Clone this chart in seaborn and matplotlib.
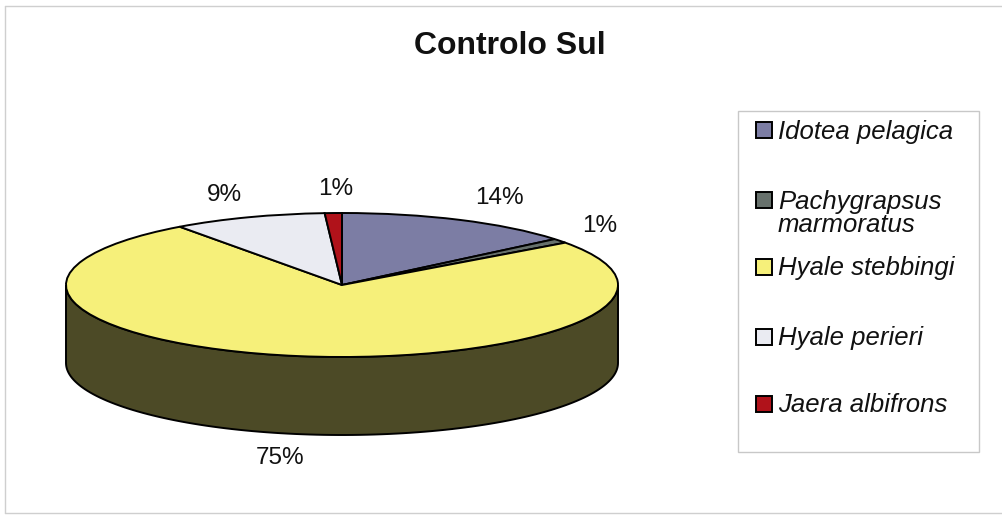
import numpy as np
import matplotlib
matplotlib.use("Agg")
import matplotlib.pyplot as plt
from matplotlib.patches import Polygon, Rectangle
from matplotlib.lines import Line2D
import seaborn as sns

# Species and their share of the sample (%)
species = ["Idotea pelagica", "Pachygrapsus\nmarmoratus", "Hyale stebbingi",
           "Hyale perieri", "Jaera albifrons"]
percent = [14, 1, 75, 9, 1]
slice_colors = ["#7c7da4", "#67716c", "#f6f07a", "#eaebf2", "#b0121a"]
title = "Controlo Sul"

sns.set_theme(style="white")
plt.rcParams["font.family"] = ["Liberation Sans", "DejaVu Sans"]

W, H = 1003, 517
fig = plt.figure(figsize=(W / 100, H / 100), dpi=100)
fig.patch.set_facecolor("white")


def fx(px):
    return px / W


def fy(py):
    return 1 - py / H


# Disc geometry in pixels: centre, horizontal / vertical radius, wall height
cx, cy, rx, ry, depth_px = 342, 285, 276, 72, 78
x0, x1 = -1.2, 1.2
y0, y1 = -2.8, 1.9
ax = fig.add_axes([fx(cx + x0 * rx), fy(cy - y0 * ry),
                   (x1 - x0) * rx / W, (y1 - y0) * ry / H])

palette = sns.color_palette(slice_colors)
wedges, _ = ax.pie(percent, colors=palette, startangle=90, counterclock=False,
                   wedgeprops=dict(edgecolor="black", linewidth=1.4))
for w in wedges:
    w.set_zorder(3)
ax.set_aspect("auto")
ax.set_xlim(x0, x1)
ax.set_ylim(y0, y1)
ax.axis("off")
depth = depth_px / ry


def shade(c, f=0.31):
    return tuple(v * f for v in c)


# Side wall of the tilted disc: the part of each slice facing the viewer
for w, col in zip(wedges, palette):
    t1, t2 = w.theta1, w.theta2
    for k in (-360, 0, 360):
        a = max(t1 + k, 180)
        b = min(t2 + k, 360)
        if b > a:
            t = np.radians(np.linspace(a, b, 120))
            xs, ys = np.cos(t), np.sin(t)
            pts = np.column_stack([np.r_[xs, xs[::-1]],
                                   np.r_[ys, ys[::-1] - depth]])
            ax.add_patch(Polygon(pts, closed=True, facecolor=shade(col),
                                 edgecolor="black", linewidth=1.4, zorder=2))

# Percentage labels just outside the rim of each slice
for w, p in zip(wedges, percent):
    tm = np.radians((w.theta1 + w.theta2) / 2)
    dx, dy = np.cos(tm), np.sin(tm)
    lx = dx + (8 + np.sign(dx) * min(32, 170 * abs(dx))) / rx
    ly = dy * (ry + 24) / ry
    if dy < 0:
        ly -= depth
    ax.text(lx, ly, f"{p}%", ha="center", va="center", fontsize=17.5,
            color="#111111")

fig.text(fx(509.5), fy(54), title, ha="center", va="baseline",
         fontsize=23, fontweight="bold", color="#111111")

# Legend box with a colour key and italic species name per row
legend_rows = [130.5, 200, 267, 336.5, 404]
line_step = 23
key = 16
fig.patches.append(Rectangle((fx(738), fy(452)), (979 - 738) / W,
                             (452 - 111) / H, transform=fig.transFigure,
                             fill=False, edgecolor="#c8c8c8", linewidth=1))
for name, col, yc in zip(species, palette, legend_rows):
    fig.patches.append(Rectangle((fx(756), fy(yc + key / 2)), key / W, key / H,
                                 transform=fig.transFigure, facecolor=col,
                                 edgecolor="black", linewidth=1.4))
    for i, line in enumerate(name.split("\n")):
        fig.text(fx(778), fy(yc + 8.5 + i * line_step), line, ha="left",
                 va="baseline", fontsize=18.5, style="italic", color="#111111")

# Chart area frame
for xs, ys in [((5, 5), (6, 513)), ((5, W), (6, 6)), ((5, W), (513, 513))]:
    fig.lines.append(Line2D([fx(x) for x in xs], [fy(y) for y in ys],
                            transform=fig.transFigure, color="#cfcfcf",
                            linewidth=1))

fig.savefig("out.png", dpi=100)
